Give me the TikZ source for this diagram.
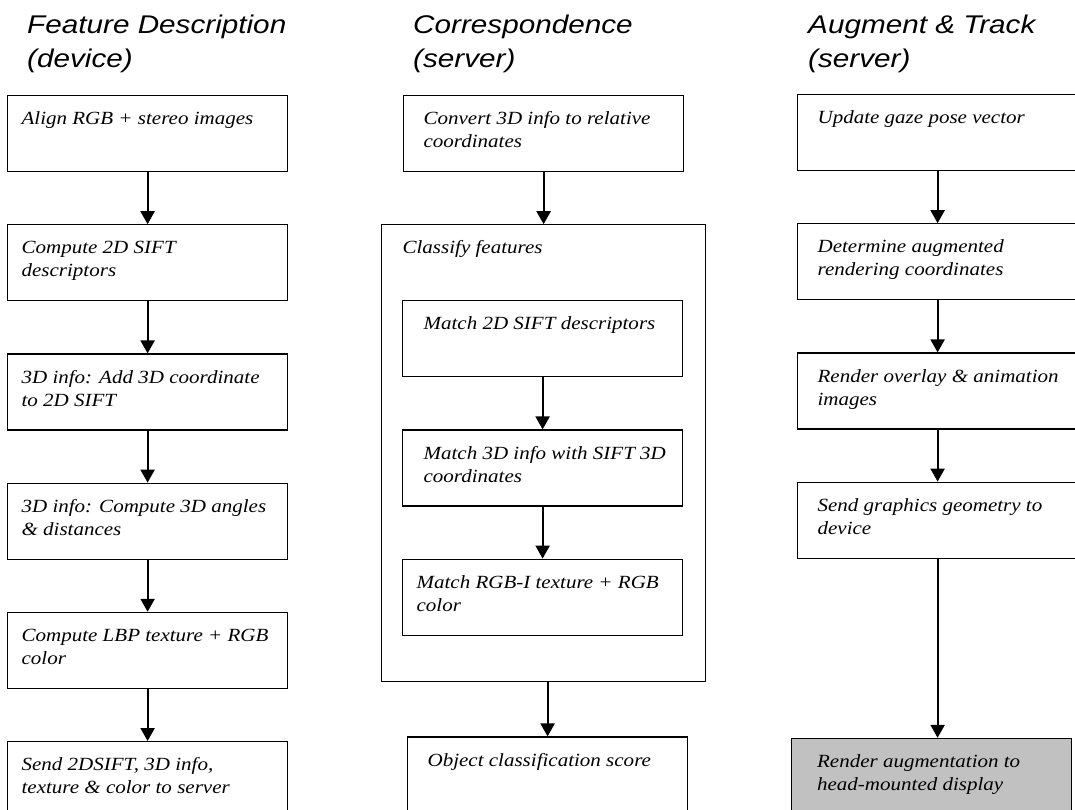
\documentclass[tikz,border=0pt]{standalone}
\usepackage{fontspec}
\usepackage{xcolor}
\usetikzlibrary{arrows.meta,positioning,calc}

\newfontfamily\stepfont{Liberation Serif}[FakeStretch=1.13]
\newfontfamily\headfont{Liberation Sans}[FakeStretch=1.16]
\definecolor{hmdgray}{RGB}{192,193,192}

% text sits at the top of every box
\newcommand\steptext[2][7pt]{\parbox[c][50pt][t]{266pt}{\raggedright\leftskip=#1\stepfont\itshape\fontsize{18.6}{23}\selectfont\strut #2}}

\begin{document}
\begin{tikzpicture}[x=1pt, y=-1pt, node distance=52pt,
    stepbox/.style={rectangle, draw, line width=1.2pt, inner xsep=7pt, inner ysep=13pt},
    heading/.style={font=\headfont\itshape\fontsize{25.6}{34}\selectfont, align=left, inner sep=0pt},
    flow/.style={line width=2.2pt, -{Triangle[width=14pt,length=13pt]}}]
    \useasboundingbox (0,0) rectangle (1075,809);

    % Column headings (anchored on the second line)
    \node[heading, anchor=base west] (headdev) at (27,67) {Feature Description\\(device)};
    \node[heading, anchor=base west] (headcorr) at (413,67) {Correspondence\\(server)};
    \node[heading, anchor=base west] (headaug) at (808,67) {Augment \& Track\\(server)};

    % Feature description
    \node[stepbox, anchor=north west] (align) at (7,95) {\steptext{Align RGB + stereo images}};
    \node[stepbox, below=of align] (sift) {\steptext{Compute 2D SIFT\\descriptors}};
    \node[stepbox, below=of sift] (addcoord) {\steptext{3D info: Add 3D coordinate\\to 2D SIFT}};
    \node[stepbox, below=of addcoord] (angles) {\steptext{3D info: Compute 3D angles\\\& distances}};
    \node[stepbox, below=of angles] (lbp) {\steptext{Compute LBP texture + RGB\\color}};
    \node[stepbox, below=of lbp] (send) {\steptext{Send 2DSIFT, 3D info,\\texture \& color to server}};

    % Correspondence
    \node[stepbox, anchor=north west] (convert) at (403,95) {\steptext[13pt]{Convert 3D info to relative\\coordinates}};
    \node[stepbox, below=of convert] (classify) {\parbox[c][431pt][t]{310pt}{\raggedright\leftskip=14pt\stepfont\itshape\fontsize{18.6}{23}\selectfont\strut Classify features}};
    \node[stepbox, anchor=north west] (matchsift) at ($(classify.north west)+(21,76)$) {\steptext[14pt]{Match 2D SIFT descriptors}};
    \node[stepbox, below=of matchsift] (matchthree) {\steptext[14pt]{Match 3D info with SIFT 3D\\coordinates}};
    \node[stepbox, below=of matchthree] (matchrgb) {\steptext{Match RGB-I texture + RGB\\color}};
    \node[stepbox, below=54pt of classify, xshift=4pt] (score) {\steptext[13pt]{Object classification score}};

    % Augment and track
    \node[stepbox, anchor=north west] (gaze) at (797,94) {\steptext[13pt]{Update gaze pose vector}};
    \node[stepbox, below=of gaze] (determine) {\steptext[13pt]{Determine augmented\\rendering coordinates}};
    \node[stepbox, below=of determine] (overlay) {\steptext[13pt]{Render overlay \& animation\\images}};
    \node[stepbox, below=of overlay] (geometry) {\steptext[13pt]{Send graphics geometry to\\device}};
    \node[stepbox, fill=hmdgray, below=179pt of geometry, xshift=-6.5pt] (hmd) {\steptext[19pt]{Render augmentation to\\head-mounted display}};

    \draw[flow] (align) -- (sift);
    \draw[flow] (sift) -- (addcoord);
    \draw[flow] (addcoord) -- (angles);
    \draw[flow] (angles) -- (lbp);
    \draw[flow] (lbp) -- (send);

    \draw[flow] (convert) -- (classify);
    \draw[flow] (matchsift) -- (matchthree);
    \draw[flow] (matchthree) -- (matchrgb);
    \draw[flow] (score.north |- classify.south) -- (score);

    \draw[flow] (gaze) -- (determine);
    \draw[flow] (determine) -- (overlay);
    \draw[flow] (overlay) -- (geometry);
    \draw[flow] (geometry) -- (geometry.south |- hmd.north);
\end{tikzpicture}
\end{document}
